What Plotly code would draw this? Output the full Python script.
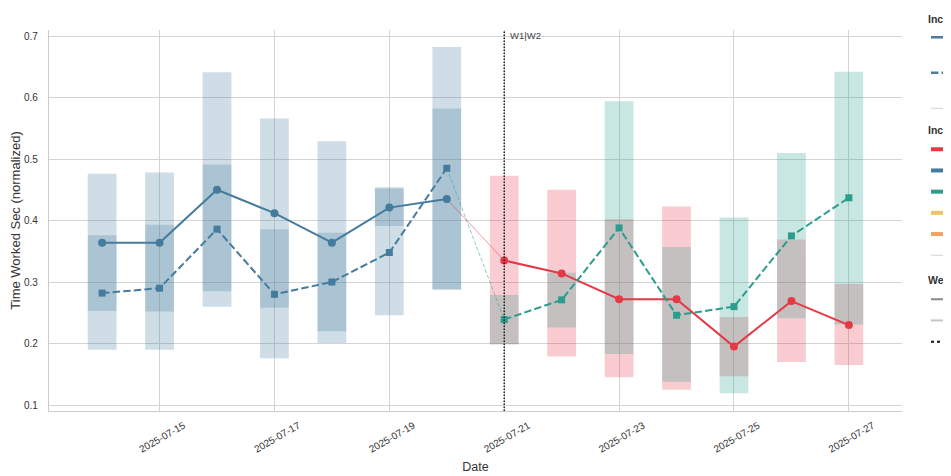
import plotly.graph_objects as go

# ---------------- data ----------------
week1_dates = ["2025-07-14", "2025-07-15", "2025-07-16", "2025-07-17",
               "2025-07-18", "2025-07-19", "2025-07-20"]
week2_dates = ["2025-07-21", "2025-07-22", "2025-07-23", "2025-07-24",
               "2025-07-25", "2025-07-26", "2025-07-27"]

# Week 1 (both series blue)
w1_solid_mean = [0.364, 0.364, 0.450, 0.412, 0.364, 0.421, 0.435]
w1_solid_low = [0.253, 0.252, 0.285, 0.258, 0.220, 0.391, 0.288]
w1_solid_high = [0.476, 0.478, 0.641, 0.566, 0.529, 0.454, 0.582]
w1_dash_mean = [0.282, 0.290, 0.386, 0.280, 0.300, 0.348, 0.485]
w1_dash_low = [0.190, 0.190, 0.260, 0.176, 0.201, 0.246, 0.288]
w1_dash_high = [0.376, 0.393, 0.491, 0.386, 0.380, 0.452, 0.682]

# Week 2 (solid = red, dashed = teal)
w2_solid_mean = [0.335, 0.314, 0.272, 0.272, 0.195, 0.269, 0.230]
w2_solid_low = [0.199, 0.179, 0.145, 0.125, 0.147, 0.170, 0.165]
w2_solid_high = [0.473, 0.450, 0.402, 0.423, 0.243, 0.369, 0.297]
w2_dash_mean = [0.239, 0.271, 0.388, 0.246, 0.260, 0.375, 0.437]
w2_dash_low = [0.199, 0.226, 0.183, 0.138, 0.119, 0.241, 0.231]
w2_dash_high = [0.279, 0.315, 0.594, 0.357, 0.405, 0.510, 0.642]

tick_dates = ["2025-07-15", "2025-07-17", "2025-07-19", "2025-07-21",
              "2025-07-23", "2025-07-25", "2025-07-27"]
boundary_date = "2025-07-21"

palette = ["#e63946", "#457b9d", "#2a9d8f", "#e9c46a", "#f4a261"]
palette_names = ["Type A", "Type B", "Type C", "Type D", "Type E"]
RED, BLUE, TEAL = palette[0], palette[1], palette[2]

DAY_MS = 86400000
BAR_W = 0.5 * DAY_MS
FONT = "Liberation Sans, Arial, sans-serif"
DASH = "7.4px,3.2px"

# the page body adds an 8px offset, so the figure is 8px smaller than the window
FIG_W, FIG_H = 943, 468

fig = go.Figure()


def add_range(dates, low, high, color):
    fig.add_trace(go.Bar(
        x=dates, y=[h - l for l, h in zip(low, high)], base=low,
        width=BAR_W, marker=dict(color=color, line=dict(width=0)),
        opacity=0.25, showlegend=False, hoverinfo="skip"))


# range bars
add_range(week1_dates, w1_solid_low, w1_solid_high, BLUE)
add_range(week1_dates, w1_dash_low, w1_dash_high, BLUE)
add_range(week2_dates, w2_solid_low, w2_solid_high, RED)
add_range(week2_dates, w2_dash_low, w2_dash_high, TEAL)

# thin connectors across the week boundary
fig.add_trace(go.Scatter(
    x=[week1_dates[-1], week2_dates[0]], y=[w1_solid_mean[-1], w2_solid_mean[0]],
    mode="lines", line=dict(color=RED, width=1), opacity=0.5, showlegend=False))
fig.add_trace(go.Scatter(
    x=[week1_dates[-1], week2_dates[0]], y=[w1_dash_mean[-1], w2_dash_mean[0]],
    mode="lines", line=dict(color=TEAL, width=1, dash="4px,2px"), opacity=0.5,
    showlegend=False))


def add_line(dates, vals, color, dashed):
    fig.add_trace(go.Scatter(
        x=dates, y=vals, mode="lines+markers",
        line=dict(color=color, width=2, dash=DASH if dashed else "solid"),
        marker=dict(color=color, size=7 if dashed else 8,
                    symbol="square" if dashed else "circle"),
        showlegend=False))


add_line(week1_dates, w1_solid_mean, BLUE, False)
add_line(week1_dates, w1_dash_mean, BLUE, True)
add_line(week2_dates, w2_solid_mean, RED, False)
add_line(week2_dates, w2_dash_mean, TEAL, True)

# ---------------- legends (mostly outside the visible page) ----------------
def leg(name, legend, color, width=2, dash="solid"):
    fig.add_trace(go.Scatter(x=[None], y=[None], mode="lines", name=name,
                             legend=legend,
                             line=dict(color=color, width=width, dash=dash)))


leg("Mean time<br>(solid)", "legend", "#4f7a98", 2.5)
leg("Median time<br>(dashed)", "legend", "#4f7a98", 2.5, DASH)
leg(" ", "legend", "#d0d0d0", 1)
for c, n in zip(palette, palette_names):
    leg(n, "legend2", c, 4)
leg("  ", "legend2", "#d0d0d0", 1)
leg("Week 1", "legend3", "#8a8a8a", 2)
leg("Week 2", "legend3", "#c4c4c4", 2)
leg("W1|W2 boundary", "legend3", "#111111", 2, "dot")

title_font = dict(family=FONT, size=10.5, color="#333333", weight="bold")
common_leg = dict(xref="container", yref="container", x=918 / FIG_W,
                  xanchor="left", yanchor="top", bgcolor="rgba(0,0,0,0)",
                  borderwidth=0, tracegroupgap=0)

fig.update_layout(
    width=FIG_W, height=FIG_H,
    margin=dict(l=41.3, r=49.3, t=22.4, b=65, autoexpand=False),
    paper_bgcolor="white", plot_bgcolor="white",
    barmode="overlay",
    font=dict(family=FONT, color="#333333"),
    legend=dict(**common_leg, y=1 - 1 / FIG_H, valign="top",
                title=dict(text="Incident metric", font=title_font),
                font=dict(size=12.5)),
    legend2=dict(**common_leg, y=1 - 112 / FIG_H,
                 title=dict(text="Incident type", font=title_font),
                 font=dict(size=14)),
    legend3=dict(**common_leg, y=1 - 262 / FIG_H,
                 title=dict(text="Week", font=title_font),
                 font=dict(size=14)),
    xaxis=dict(
        type="date",
        range=["2025-07-13 01:48", "2025-07-27 22:12"],
        tickvals=tick_dates, tickformat="%Y-%m-%d",
        tickangle=-30, ticklabelshift=24, ticklabelstandoff=4,
        tickfont=dict(size=10, color="#333333"),
        showgrid=True, gridcolor="#d4d4d4", gridwidth=1,
        showline=True, linecolor="#cccccc", linewidth=1.25,
        zeroline=False, ticks="",
        title=dict(text="Date", font=dict(size=12.5, color="#333333"), standoff=8),
    ),
    yaxis=dict(
        range=[0.0903, 0.7098], tick0=0.1, dtick=0.1, tickformat=".1f",
        tickfont=dict(size=10, color="#333333"),
        showgrid=True, gridcolor="#d4d4d4", gridwidth=1,
        showline=True, linecolor="#cccccc", linewidth=1.25,
        zeroline=False, ticks="", ticklabelstandoff=8,
        title=dict(text="Time Worked Sec (normalized)",
                   font=dict(size=13, color="#333333"), standoff=8),
    ),
    shapes=[dict(type="line", xref="x", yref="paper",
                 x0=boundary_date, x1=boundary_date, y0=0, y1=1,
                 line=dict(color="#222222", width=1.5, dash="1.5px,1.5px"))],
    annotations=[dict(text="W1|W2", x=boundary_date, xref="x", y=1, yref="paper",
                      xanchor="left", yanchor="top", xshift=4, yshift=2,
                      showarrow=False, font=dict(size=9.5, color="#444444"))],
)

fig.write_html("out.html")
